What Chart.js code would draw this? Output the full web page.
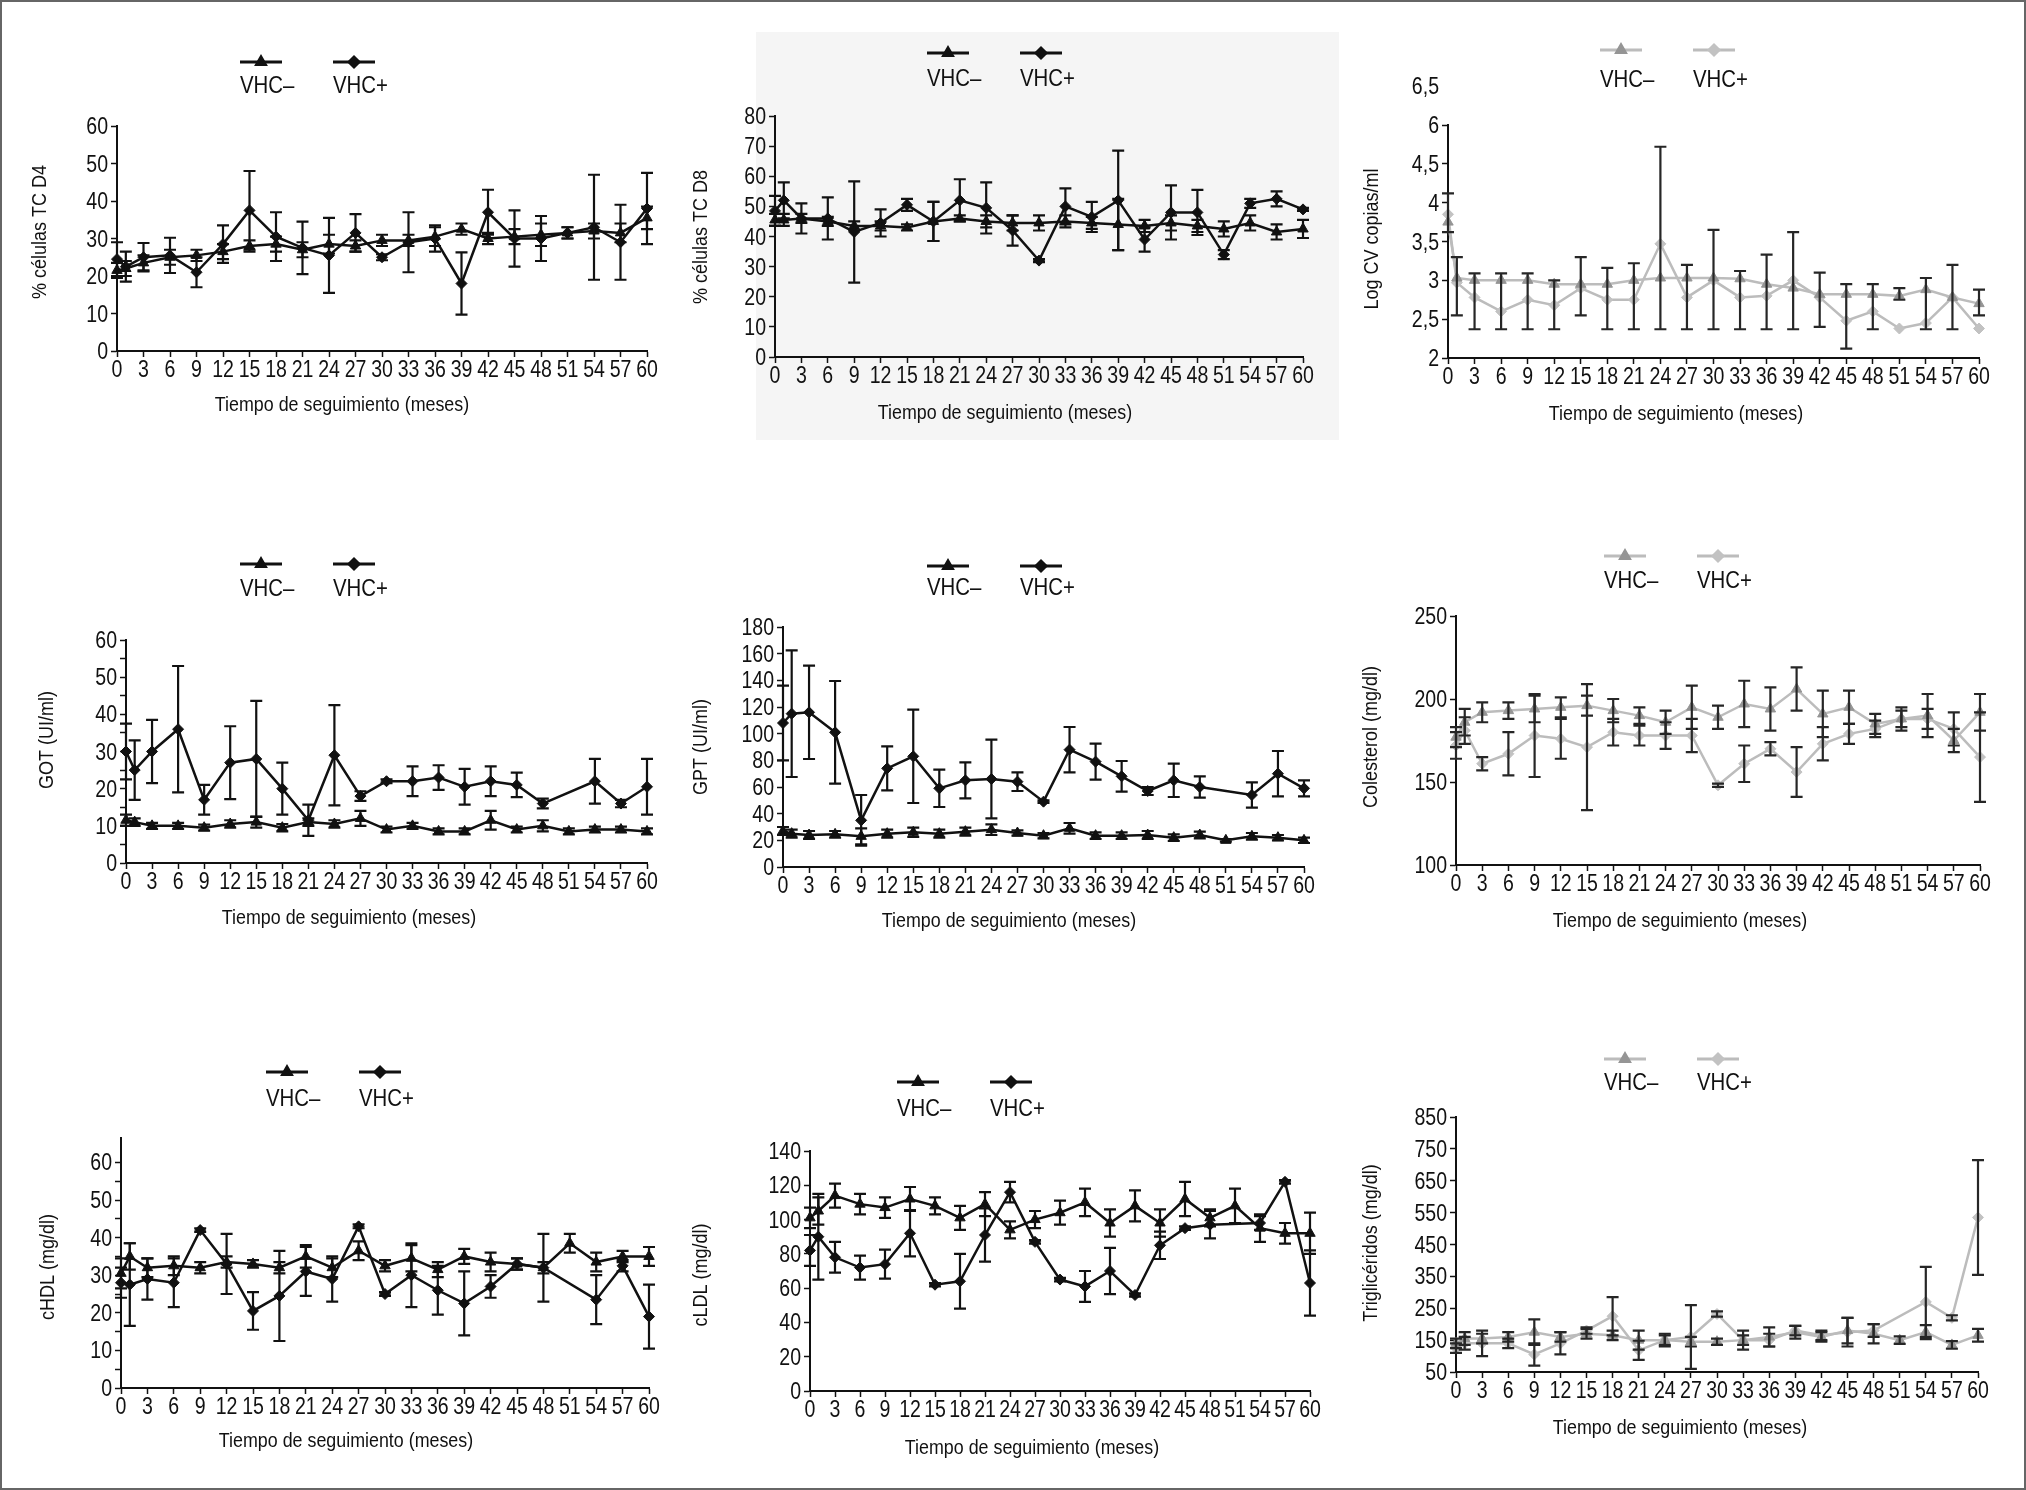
<!DOCTYPE html>
<html lang="es">
<head>
<meta charset="utf-8">
<title>Seguimiento VHC</title>
<script src="https://cdn.jsdelivr.net/npm/chart.js@4.4.1/dist/chart.umd.min.js"></script>
<style>
  html, body { margin: 0; padding: 0; background: #fff; }
  #page { position: relative; width: 2026px; height: 1490px; overflow: hidden; background: #fff; }
  #scan2 { position: absolute; left: 756px; top: 32px; width: 583px; height: 408px; background: #f5f5f5; }
  #frame { position: absolute; left: 0; top: 0; width: 2026px; height: 1490px; box-sizing: border-box; border: 2px solid #666; pointer-events: none; }
</style>
</head>
<body>
<div id="page">
  <div id="scan2"></div>
  <div id="frame"></div>
</div>
<script>
const months = [0, 1, 3, 6, 9, 12, 15, 18, 21, 24, 27, 30, 33, 36, 39, 42, 45, 48, 51, 54, 57, 60];
const seriesNames = ["VHC–", "VHC+"];
const xTitle = "Tiempo de seguimiento (meses)";

// % celulas TC D4
const cd4Neg = [21.5, 22, 23.5, 25, 25.5, 26.5, 28, 28.5, 27, 28.5, 28, 29.5, 29.5, 30.5, 32.5, 30, 30.5, 31, 31.5, 32, 31.5, 35.5];
const cd4NegErr = [2, 2, 2, 2, 1.5, 2, 1.5, 2, 2, 2.5, 1.5, 1.5, 1.5, 2.5, 1.5, 1.5, 2, 3, 1.5, 2, 2.5, 3];
const cd4Pos = [24.5, 22.5, 25, 25.5, 21, 28.5, 37.5, 30.5, 27.5, 25.5, 31.5, 25, 29, 30, 18, 37, 30, 30, 31.5, 33, 29, 38];
const cd4PosErr = [4.5, 4, 3.8, 4.7, 4, 5, 10.5, 6.5, 7, 10, 5, 0.8, 8, 3.5, 8.3, 6, 7.5, 6, 1.5, 14, 10, 9.5];

// % celulas TC D8
const cd8Neg = [45.5, 45.5, 46, 45, 43.5, 43.5, 43, 45, 46, 45, 44.5, 44.5, 45, 44.5, 44, 43.5, 44.5, 43.5, 42.5, 44.5, 41.5, 42.5];
const cd8NegErr = [2, 2, 1.5, 1.5, 1.5, 1.5, 1, 6.5, 1, 2, 2.5, 2.5, 2, 2, 8.5, 2, 2.5, 2, 2.5, 2.5, 2.5, 3];
const cd8Pos = [48.5, 52, 46, 46, 41.5, 44.5, 50.5, 45, 52, 49.5, 42, 32, 50, 46.5, 52, 39, 48, 48, 34, 51, 52.5, 49];
const cd8PosErr = [5, 6, 5, 7, 16.8, 4.5, 2, 6.5, 7, 8.5, 5, 0.5, 6, 5, 16.5, 4, 9, 7.5, 1.5, 1.5, 2.5, 0.5];

// Log CV copias/ml (axis units, the "6" label sits at 5)
const cvNeg = [3.75, 3.03, 3.0, 3.0, 3.0, 2.95, 2.95, 2.95, 3.0, 3.03, 3.03, 3.03, 3.02, 2.95, 2.9, 2.82, 2.82, 2.82, 2.8, 2.88, 2.78, 2.7];
const cvPos = [3.85, 2.97, 2.78, 2.6, 2.75, 2.68, 2.9, 2.75, 2.75, 3.47, 2.78, 3.0, 2.78, 2.8, 3.0, 2.78, 2.48, 2.6, 2.38, 2.45, 2.78, 2.38];
const cvHi = [4.12, 3.3, 3.09, 3.09, 3.09, 3.0, 3.3, 3.16, 3.22, 4.72, 3.2, 3.65, 3.12, 3.33, 3.62, 3.1, 2.95, 2.95, 2.9, 3.03, 3.2, 2.88];
const cvLo = [3.62, 2.55, 2.37, 2.37, 2.37, 2.37, 2.55, 2.37, 2.37, 2.37, 2.37, 2.37, 2.37, 2.37, 2.37, 2.4, 2.12, 2.37, 2.75, 2.37, 2.37, 2.55];
const cvAxisValues = [2, 2.5, 3, 3.5, 4, 4.5, 5, 5.5];
const cvAxisLabels = ["2", "2,5", "3", "3,5", "4", "4,5", "6", "6,5"];

// GOT
const gotNeg = [11.5, 11, 10, 10, 9.5, 10.5, 11, 9.5, 11, 10.5, 12, 9, 10, 8.5, 8.5, 11.5, 9, 10, 8.5, 9, 9, 8.5];
const gotNegErr = [1.5, 1, 0.8, 0.8, 0.8, 1, 1.5, 1, 1, 1, 2, 0.8, 0.8, 0.8, 0.8, 2.5, 0.8, 1.5, 0.8, 0.8, 0.8, 0.8];
const gotPos = [30, 25, 30, 36, 17, 27, 28, 20, 11.5, 29, 18, 22, 22, 23, 20.5, 22, 21, 16, null, 22, 16, 20.5];
const gotPosErr = [7.5, 8, 8.5, 17, 4, 9.8, 15.6, 7, 4.2, 13.5, 1.3, 0.5, 4, 3.3, 4.8, 4, 3.3, 1.3, null, 6, 1, 7.5];

// GPT
const gptNeg = [27, 25, 24, 24.5, 23, 25, 26, 25, 26.5, 28, 25.5, 23.5, 29, 23.5, 23.5, 24, 22, 24, 20, 23, 22, 20];
const gptNegErr = [3, 3, 3, 2.5, 6, 3, 3.5, 3, 3, 4, 2, 2, 4, 2.5, 2.5, 3, 2.5, 2.5, 1, 2.5, 2, 2];
const gptPos = [108, 115, 116, 101, 35, 74, 83, 59, 65, 66, 64, 49, 88, 79, 68, 57, 65, 60, null, 54, 70, 59];
const gptPosErr = [28, 47.5, 35, 38.5, 19, 16.5, 35, 14, 13.5, 29.5, 7, 1, 17, 13.5, 11.5, 3, 12.5, 8, null, 9.5, 17, 6];

// Colesterol
const cholNeg = [177, 186, 192, 193, 194, 195, 196, 193, 190, 186, 195, 189, 197, 194, 206, 191, 195, 185, 188, 190, 175, 192];
const cholNegErr = [6, 8, 6, 5, 8, 6, 6, 7, 5, 7, 13, 7, 14, 13, 13, 14, 10, 6, 7, 13, 7, 11];
const cholPos = [172, 181, 161, 167, 178, 176, 171, 180, 178, 178, 178, 148, 161, 170, 156, 173, 179, 182, 188, 188, 182, 165];
const cholPosErr = [8, 8, 4, 13, 25, 12, 38, 8, 6, 8, 10, 1, 11, 4, 15, 10, 6, 5, 5, 6, 10, 27];

// cHDL
const hdlNeg = [30.5, 35, 32, 32.5, 32, 33.5, 33, 32, 35, 32, 36.5, 32.5, 34.5, 31.5, 35, 33.5, 33, 32, 38.5, 33.5, 35, 35];
const hdlNegErr = [4, 3.5, 2.5, 2.5, 1.5, 1.5, 1, 1.5, 3, 2.5, 2.5, 1.5, 3.5, 2, 2, 2.5, 1.5, 1.5, 2.5, 2.5, 1.5, 2.5];
const hdlPos = [28, 27.5, 29, 28, 42, 33, 20.5, 24.5, 31, 29, 43, 25, 30, 26, 22.5, 27, 33, 32, null, 23.5, 32.5, 19];
const hdlPosErr = [4, 11, 5.5, 6.5, 0.5, 8, 5, 12, 6.5, 6, 0.5, 0.5, 8.5, 6.5, 8.5, 3, 1.5, 9, null, 6.5, 1.5, 8.5];

// cLDL
const ldlNeg = [101, 105, 114, 109, 107, 112, 108, 101, 109, 94, 100, 104, 110, 98, 108, 98, 112, 101, 108, 95, 92, 92];
const ldlNegErr = [6, 8, 7, 6, 6, 7, 5, 7, 7, 5, 5, 7, 8, 8, 9, 8, 10, 5, 10, 8, 6, 12];
const ldlPos = [82, 90, 78, 72, 74, 92, 62, 64, 91, 116, 87, 65, 61, 70, 56, 85, 95, 97, null, 98, 122, 63];
const ldlPosErr = [9, 25, 9, 7, 8.5, 13.5, 1, 16, 15.5, 6, 1, 1, 9, 13.5, 1, 8, 1, 8, null, 4, 1, 19];

// Trigliceridos
const tgNeg = [140, 155, 155, 160, 175, 160, 170, 165, 150, 150, 145, 145, 150, 160, 175, 160, 180, 170, 150, 175, 135, 165];
const tgNegErr = [15, 20, 15, 15, 40, 15, 15, 15, 30, 20, 15, 10, 30, 30, 20, 15, 40, 30, 12, 22, 12, 20];
const tgPos = [125, 140, 140, 140, 105, 140, 180, 225, 118, 150, 160, 232, 150, 150, 180, 165, 175, 180, null, 270, 220, 535];
const tgPosErr = [15, 20, 40, 15, 35, 35, 10, 60, 30, 15, 100, 8, 15, 20, 15, 15, 45, 20, null, 110, 8, 180];

const ink = "#111";
const grayLine = "#bcbcbc";
const FONT = '"Liberation Sans", Arial, sans-serif';
const SQUEEZE = 0.85; // condensed look of the printed figure

Chart.defaults.font.family = FONT;
Chart.defaults.color = ink;

function narrowText(ctx, text, x, y, align, size, squeeze) {
  ctx.save();
  ctx.translate(x, y);
  ctx.scale(squeeze || SQUEEZE, 1);
  ctx.font = size + "px " + FONT;
  ctx.textAlign = align;
  ctx.fillText(text, 0, 0);
  ctx.restore();
}

// error bars through the y scale
const errorBars = {
  id: "errorBars",
  afterDatasetsDraw(chart) {
    const ctx = chart.ctx;
    const ys = chart.scales.y;
    const cap = 6;
    chart.data.datasets.forEach((ds, i) => {
      if (!ds.err && !ds.errHi) return;
      const meta = chart.getDatasetMeta(i);
      ctx.save();
      ctx.strokeStyle = ds.errColor || ink;
      ctx.lineWidth = 2.2;
      meta.data.forEach((pt, j) => {
        const v = ds.data[j].y;
        if (v == null) return;
        let hi, lo;
        if (ds.errHi) {
          hi = ds.errHi[j];
          lo = ds.errLo[j];
        } else {
          if (ds.err[j] == null) return;
          hi = v + ds.err[j];
          lo = v - ds.err[j];
        }
        const x = pt.x;
        const yh = ys.getPixelForValue(hi);
        const yl = ys.getPixelForValue(lo);
        ctx.beginPath();
        ctx.moveTo(x, yh); ctx.lineTo(x, yl);
        ctx.moveTo(x - cap, yh); ctx.lineTo(x + cap, yh);
        ctx.moveTo(x - cap, yl); ctx.lineTo(x + cap, yl);
        ctx.stroke();
      });
      ctx.restore();
    });
  }
};

// tick labels (condensed), legend above the plot, axis titles
const panelText = {
  id: "panelText",
  afterDraw(chart, args, o) {
    const ctx = chart.ctx;
    const ox = o.cell[0], oy = o.cell[1];
    const xs = chart.scales.x, ys = chart.scales.y;
    const area = chart.chartArea;
    ctx.save();
    ctx.fillStyle = ink;
    ctx.textBaseline = "alphabetic";

    xs.ticks.forEach((t) => {
      narrowText(ctx, String(t.label), xs.getPixelForValue(t.value), area.bottom + 26, "center", 23);
    });
    ys.ticks.forEach((t) => {
      if (t.label === "" || t.label == null) return;
      narrowText(ctx, String(t.label), area.left - 9, ys.getPixelForValue(t.value) + 8, "right", 23);
    });
    if (o.extraTick) {
      narrowText(ctx, o.extraTick.label, area.left - 9, ys.getPixelForValue(o.extraTick.value) + 8, "right", 23);
    }

    chart.data.datasets.forEach((ds, k) => {
      const lx = o.legend.x + k * 93 - ox;
      const ly = o.legend.y - oy;
      ctx.strokeStyle = ds.borderColor;
      ctx.lineWidth = 3;
      ctx.beginPath();
      ctx.moveTo(lx, ly);
      ctx.lineTo(lx + 42, ly);
      ctx.stroke();
      ctx.fillStyle = ds.pointBackgroundColor;
      ctx.strokeStyle = ds.pointBackgroundColor;
      Chart.helpers.drawPoint(ctx, { pointStyle: ds.pointStyle, radius: 5, borderWidth: 1 }, lx + 21, ly);
      ctx.fillStyle = ink;
      narrowText(ctx, ds.label, lx, o.legend.ty - oy + 8, "left", 24);
    });

    ctx.fillStyle = ink;
    narrowText(ctx, xTitle, o.xTitle.x - ox, o.xTitle.y - oy + 7, "center", 21);

    ctx.save();
    ctx.translate(o.yTitle.x - ox, o.yTitle.y - oy);
    ctx.rotate(-Math.PI / 2);
    ctx.textBaseline = "middle";
    narrowText(ctx, o.yTitle.text, 0, 0, "center", 20, 0.9);
    ctx.restore();

    ctx.restore();
  }
};

const panels = [
  { cell: [0, 0, 680, 500], box: { ax: 117, top: 126, right: 647, bottom: 351 },
    y: { min: 0, max: 60, step: 10 }, neg: cd4Neg, negErr: cd4NegErr, pos: cd4Pos, posErr: cd4PosErr,
    yTitle: { text: "% células TC D4", x: 40, y: 232 }, xTitle: { x: 342, y: 404 }, legend: { x: 240, y: 62, ty: 85 } },
  { cell: [680, 0, 670, 500], box: { ax: 775, top: 116, right: 1303, bottom: 357 },
    y: { min: 0, max: 80, step: 10 }, neg: cd8Neg, negErr: cd8NegErr, pos: cd8Pos, posErr: cd8PosErr,
    yTitle: { text: "% células TC D8", x: 701, y: 237 }, xTitle: { x: 1005, y: 412 }, legend: { x: 927, y: 53, ty: 78 } },
  { cell: [1350, 0, 676, 500], box: { ax: 1448, top: 125, right: 1979, bottom: 358 }, gray: true,
    y: { min: 2, max: 5, step: 0.5 }, neg: cvNeg, hi: cvHi, lo: cvLo, pos: cvPos,
    yTicks: { values: cvAxisValues, labels: cvAxisLabels }, extraTick: { value: 5.5, label: cvAxisLabels[7] },
    yTitle: { text: "Log CV copias/ml", x: 1372, y: 239 }, xTitle: { x: 1676, y: 413 }, legend: { x: 1600, y: 50, ty: 79 } },
  { cell: [0, 500, 680, 490], box: { ax: 126, top: 640, right: 647, bottom: 863 },
    y: { min: 0, max: 60, step: 5, major: 10 }, neg: gotNeg, negErr: gotNegErr, pos: gotPos, posErr: gotPosErr,
    yTitle: { text: "GOT (UI/ml)", x: 47, y: 740 }, xTitle: { x: 349, y: 917 }, legend: { x: 240, y: 564, ty: 588 } },
  { cell: [680, 500, 670, 490], box: { ax: 783, top: 627, right: 1304, bottom: 867 },
    y: { min: 0, max: 180, step: 20 }, neg: gptNeg, negErr: gptNegErr, pos: gptPos, posErr: gptPosErr,
    yTitle: { text: "GPT (UI/ml)", x: 701, y: 747 }, xTitle: { x: 1009, y: 920 }, legend: { x: 927, y: 566, ty: 587 } },
  { cell: [1350, 500, 676, 490], box: { ax: 1456, top: 616, right: 1980, bottom: 865 }, gray: true,
    y: { min: 100, max: 250, step: 50 }, neg: cholNeg, negErr: cholNegErr, pos: cholPos, posErr: cholPosErr,
    yTitle: { text: "Colesterol (mg/dl)", x: 1371, y: 737 }, xTitle: { x: 1680, y: 920 }, legend: { x: 1604, y: 556, ty: 580 } },
  { cell: [0, 990, 680, 500], box: { ax: 121, top: 1138, right: 649, bottom: 1388 },
    y: { min: 0, max: 66.5, step: 5, major: 10 }, neg: hdlNeg, negErr: hdlNegErr, pos: hdlPos, posErr: hdlPosErr,
    yTitle: { text: "cHDL (mg/dl)", x: 48, y: 1267 }, xTitle: { x: 346, y: 1440 }, legend: { x: 266, y: 1072, ty: 1098 } },
  { cell: [680, 990, 670, 500], box: { ax: 810, top: 1151, right: 1310, bottom: 1391 },
    y: { min: 0, max: 140, step: 20 }, neg: ldlNeg, negErr: ldlNegErr, pos: ldlPos, posErr: ldlPosErr,
    yTitle: { text: "cLDL (mg/dl)", x: 701, y: 1275 }, xTitle: { x: 1032, y: 1447 }, legend: { x: 897, y: 1082, ty: 1108 } },
  { cell: [1350, 990, 676, 500], box: { ax: 1456, top: 1117, right: 1978, bottom: 1372 }, gray: true,
    y: { min: 50, max: 850, step: 100 }, neg: tgNeg, negErr: tgNegErr, pos: tgPos, posErr: tgPosErr,
    yTitle: { text: "Triglicéridos (mg/dl)", x: 1371, y: 1243 }, xTitle: { x: 1680, y: 1427 }, legend: { x: 1604, y: 1059, ty: 1082 } }
];

const page = document.getElementById("page");
const frame = document.getElementById("frame");

function toPoints(vals) {
  return months.map((m, i) => ({ x: m, y: vals[i] }));
}

function onStep(v, base, step) {
  const q = (v - base) / step;
  return Math.abs(q - Math.round(q)) < 1e-6;
}

function buildPanel(p) {
  const [cx, cy, cw, ch] = p.cell;
  const canvas = document.createElement("canvas");
  canvas.width = cw;
  canvas.height = ch;
  canvas.style.cssText = `position:absolute;left:${cx}px;top:${cy}px;width:${cw}px;height:${ch}px;`;
  page.insertBefore(canvas, frame);

  const lineCol = p.gray ? grayLine : ink;
  const negPt = p.gray ? "#959595" : ink;
  const posPt = p.gray ? "#c2c2c2" : ink;
  const errCol = p.gray ? "#262626" : ink;

  const common = {
    borderColor: lineCol,
    borderWidth: 2.5,
    pointBorderWidth: 1,
    tension: 0,
    spanGaps: true,
    clip: false,
    errColor: errCol
  };

  new Chart(canvas.getContext("2d"), {
    type: "line",
    data: {
      datasets: [
        Object.assign({}, common, {
          label: seriesNames[0],
          data: toPoints(p.neg),
          err: p.negErr,
          errHi: p.hi,
          errLo: p.lo,
          pointStyle: "triangle",
          pointRadius: 6,
          pointBackgroundColor: negPt,
          pointBorderColor: negPt
        }),
        Object.assign({}, common, {
          label: seriesNames[1],
          data: toPoints(p.pos),
          err: p.posErr,
          pointStyle: "rectRot",
          pointRadius: 5.5,
          pointBackgroundColor: posPt,
          pointBorderColor: posPt
        })
      ]
    },
    options: {
      responsive: false,
      animation: false,
      layout: {
        padding: { left: 0, top: p.box.top - cy, right: cx + cw - p.box.right, bottom: 0 }
      },
      plugins: {
        legend: { display: false },
        tooltip: { enabled: false },
        panelText: { cell: p.cell, legend: p.legend, xTitle: p.xTitle, yTitle: p.yTitle, extraTick: p.extraTick }
      },
      scales: {
        x: {
          type: "linear",
          min: 0,
          max: 60,
          afterFit: (s) => { s.height = cy + ch - p.box.bottom; },
          border: { display: true, color: ink, width: 2 },
          grid: { drawOnChartArea: false, drawTicks: true, tickLength: 6, tickColor: ink, tickWidth: 1.5 },
          ticks: { stepSize: 3, autoSkip: false, maxRotation: 0, padding: 3, font: { size: 16 }, color: "rgba(0,0,0,0)" }
        },
        y: {
          type: "linear",
          min: p.y.min,
          max: p.y.max,
          afterFit: (s) => { s.width = p.box.ax - cx; },
          afterBuildTicks: (s) => {
            s.ticks = s.ticks.filter((t) => onStep(t.value, p.y.min, p.y.step));
          },
          border: { display: true, color: ink, width: 2 },
          grid: { drawOnChartArea: false, drawTicks: true, tickLength: 6, tickColor: ink, tickWidth: 1.5 },
          ticks: {
            stepSize: p.y.step,
            autoSkip: false,
            padding: 4,
            font: { size: 16 },
            color: "rgba(0,0,0,0)",
            callback: (v) => {
              if (p.yTicks) {
                const k = p.yTicks.values.indexOf(v);
                return k >= 0 ? p.yTicks.labels[k] : "";
              }
              if (p.y.major && v % p.y.major !== 0) return "";
              return String(v);
            }
          }
        }
      }
    },
    plugins: [errorBars, panelText]
  });
}

panels.forEach(buildPanel);
</script>
</body>
</html>
